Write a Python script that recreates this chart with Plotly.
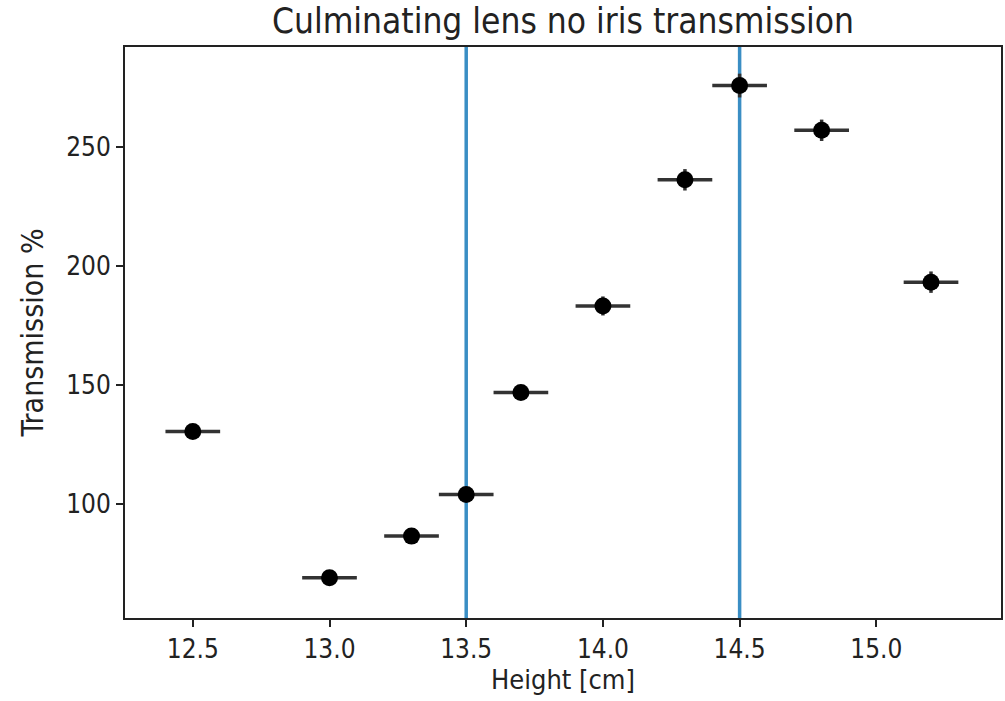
import plotly.graph_objects as go

heights = [12.5, 13.0, 13.3, 13.5, 13.7, 14.0, 14.3, 14.5, 14.8, 15.2]
transmission = [130.5, 69.0, 86.5, 104.0, 146.8, 183.2, 236.2, 275.8, 257.0, 193.2]
height_err = [0.1] * 10
trans_err = [2.0, 1.5, 2.0, 2.5, 3.0, 4.0, 4.5, 5.0, 4.5, 4.5]
vlines = [13.5, 14.5]
xticks = [12.5, 13.0, 13.5, 14.0, 14.5, 15.0]
xtick_labels = ["12.5", "13.0", "13.5", "14.0", "14.5", "15.0"]
yticks = [100, 150, 200, 250]
ytick_labels = ["100", "150", "200", "250"]

font = "DejaVu Sans Condensed, Liberation Sans Narrow, DejaVu Sans"

fig = go.Figure()
fig.add_trace(go.Scatter(
    x=heights, y=transmission, mode="markers",
    marker=dict(color="black", size=17, symbol="circle"),
    error_x=dict(type="data", array=height_err, color="#333333", thickness=3.5, width=0),
    error_y=dict(type="data", array=trans_err, color="#333333", thickness=3.5, width=0),
    showlegend=False,
))

for v in vlines:
    fig.add_shape(type="line", xref="x", yref="paper", x0=v, x1=v, y0=0, y1=1,
                  line=dict(color="#3a8ec4", width=3.5), layer="below")

fig.update_layout(
    width=1005, height=701,
    margin=dict(l=125, r=2, t=47, b=83),
    paper_bgcolor="white", plot_bgcolor="white",
    title=dict(text="Culminating lens no iris transmission", x=0.5, xref="paper",
               xanchor="center", y=1 - 21 / 701, yanchor="middle",
               font=dict(family=font, size=35, color="#222222")),
    font=dict(family=font, color="#222222"),
)
fig.update_xaxes(
    range=[12.252, 15.456], tickvals=xticks, ticktext=xtick_labels,
    ticks="outside", ticklen=7, tickwidth=1.5, tickcolor="#222222",
    showline=True, linecolor="#222222", linewidth=2, mirror=True,
    showgrid=False, zeroline=False,
    tickfont=dict(size=26),
    title=dict(text="Height [cm]", font=dict(size=27), standoff=6),
)
fig.update_yaxes(
    range=[52.1, 292.0], tickvals=yticks, ticktext=ytick_labels,
    ticks="outside", ticklen=7, tickwidth=1.5, tickcolor="#222222",
    showline=True, linecolor="#222222", linewidth=2, mirror=True,
    showgrid=False, zeroline=False,
    tickfont=dict(size=26),
    title=dict(text="Transmission %", font=dict(size=30), standoff=14),
)

fig.write_html("out.html")
